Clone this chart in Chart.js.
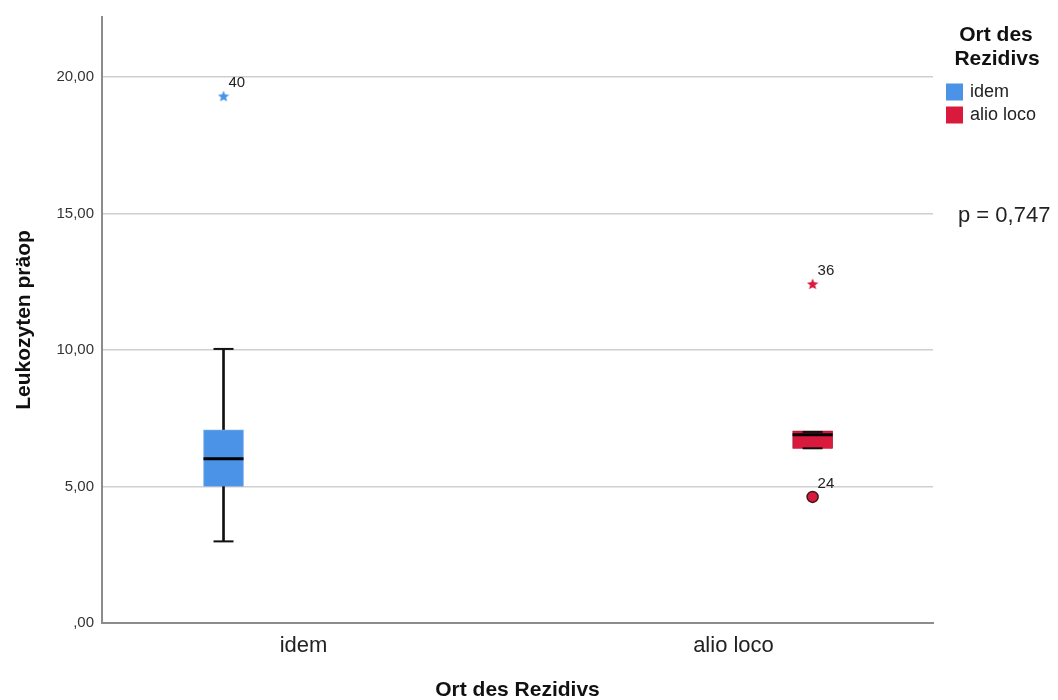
<!DOCTYPE html>
<html>
<head>
<meta charset="utf-8">
<script src="https://cdn.jsdelivr.net/npm/chart.js@4"></script>
<style>
  body { margin: 0; background: #fff; }
  canvas { display: block; }
</style>
</head>
<body>
<canvas id="chart" width="1058" height="700"></canvas>
<script>
// Leukozyten präop by Ort des Rezidivs (boxplot)
const categories = ["idem", "alio loco"];
const seriesColors = ["#4a93e6", "#d91a3c"];
const q1 = [5.0, 6.38];
const q3 = [7.08, 7.04];
const medians = [6.02, 6.9];
const whiskerLow = [2.99, 6.4];
const whiskerHigh = [10.04, 7.0];
const extremeValues = [19.3, 12.42];   // stars
const extremeIds = ["40", "36"];
const outlierValues = [null, 4.62];    // circles
const outlierIds = [null, "24"];
const yTicks = [0, 5, 10, 15, 20];

const FONT = "'Liberation Sans', Arial, Helvetica, sans-serif";
const slotOffset = [-0.186, 0.184]; // clustered position of each group inside its category

function starImg(color, size) {
  const c = document.createElement("canvas");
  c.width = c.height = size;
  const g = c.getContext("2d");
  g.fillStyle = color;
  g.beginPath();
  for (let i = 0; i < 10; i++) {
    const r = i % 2 ? size * 0.22 : size * 0.5;
    const a = -Math.PI / 2 + i * Math.PI / 5;
    g.lineTo(size / 2 + r * Math.cos(a), size / 2 + 0.5 + r * Math.sin(a));
  }
  g.closePath();
  g.fill();
  return c;
}

const xPos = categories.map((c, i) => i + slotOffset[i]);

const datasets = [];
// whiskers
datasets.push({
  type: "bar", order: 5, grouped: false, barThickness: 2,
  backgroundColor: "#111",
  data: categories.map((c, i) => ({ x: xPos[i], y: [whiskerLow[i], whiskerHigh[i]] }))
});
// boxes
categories.forEach((c, i) => {
  datasets.push({
    type: "bar", order: 4, grouped: false, barThickness: 40,
    backgroundColor: seriesColors[i],
    borderColor: i === 0 ? "#6fa8ea" : "#a8142f",
    borderWidth: 1,
    data: [{ x: xPos[i], y: [q1[i], q3[i]] }]
  });
});
// whisker caps
datasets.push({
  type: "scatter", order: 3,
  pointStyle: "line", pointRadius: 10, borderColor: "#111", borderWidth: 2,
  data: categories.flatMap((c, i) => [{ x: xPos[i], y: whiskerLow[i] }, { x: xPos[i], y: whiskerHigh[i] }])
});
// medians
datasets.push({
  type: "scatter", order: 2,
  pointStyle: "line", pointRadius: 20, borderColor: "#000", borderWidth: 3,
  data: categories.map((c, i) => ({ x: xPos[i], y: medians[i] }))
});
// extreme values (stars)
datasets.push({
  type: "scatter", order: 1,
  pointStyle: categories.map((c, i) => starImg(seriesColors[i], 12)),
  data: categories.map((c, i) => ({ x: xPos[i], y: extremeValues[i] })),
  ids: extremeIds
});
// outliers (circles)
datasets.push({
  type: "scatter", order: 1,
  pointStyle: "circle", pointRadius: 5.5,
  backgroundColor: seriesColors, borderColor: "#3a1a1a", borderWidth: 1.5,
  data: categories.map((c, i) => ({ x: xPos[i], y: outlierValues[i] })),
  ids: outlierIds
});

const extras = {
  id: "extras",
  afterDatasetsDraw(chart) {
    const ctx = chart.ctx;
    ctx.save();
    ctx.fillStyle = "#222";
    ctx.font = "15px " + FONT;
    ctx.textBaseline = "middle";
    chart.data.datasets.forEach((ds, di) => {
      if (!ds.ids) return;
      chart.getDatasetMeta(di).data.forEach((pt, j) => {
        if (!ds.ids[j] || ds.data[j].y == null) return;
        ctx.fillText(ds.ids[j], pt.x + 5, pt.y - 13);
      });
    });
    ctx.restore();
  },
  afterDraw(chart) {
    const ctx = chart.ctx;
    ctx.save();
    ctx.fillStyle = "#111";
    ctx.textAlign = "center";
    ctx.textBaseline = "middle";
    ctx.font = "bold 21px " + FONT;
    ctx.fillText("Ort des", 996, 35);
    ctx.fillText("Rezidivs", 997, 59);
    ctx.textAlign = "left";
    ctx.font = "18px " + FONT;
    categories.forEach((c, i) => {
      const y = 92 + i * 23;
      ctx.fillStyle = seriesColors[i];
      ctx.fillRect(946, y - 8.5, 17, 17);
      ctx.fillStyle = "#222";
      ctx.fillText(c, 970, y);
    });
    ctx.font = "22px " + FONT;
    ctx.fillText("p = 0,747", 958, 216);
    ctx.restore();
  }
};

new Chart(document.getElementById("chart"), {
  type: "bar",
  data: { datasets },
  plugins: [extras],
  options: {
    responsive: false,
    animation: false,
    layout: { autoPadding: false, padding: { top: 15, right: 125, left: 0, bottom: 0 } },
    plugins: { legend: { display: false }, tooltip: { enabled: false } },
    scales: {
      x: {
        type: "linear",
        offset: false,
        min: -0.4686,
        max: 1.464,
        afterFit: s => { s.height = 77; },
        afterBuildTicks: s => { s.ticks = categories.map((c, i) => ({ value: i })); },
        grid: { display: false },
        border: { display: true, color: "#8c8c8c", width: 2 },
        ticks: {
          padding: 2, color: "#222", font: { family: FONT, size: 22 },
          callback: v => categories[v]
        },
        title: {
          display: true, text: "Ort des Rezidivs", color: "#111",
          font: { family: FONT, size: 21, weight: "bold" }, padding: { top: 0, bottom: -3 }
        }
      },
      y: {
        min: 0,
        max: 22.2,
        afterFit: s => { s.width = 102; },
        afterBuildTicks: s => { s.ticks = yTicks.map(v => ({ value: v })); },
        grid: { color: "#cfcfcf", lineWidth: 1.5, drawTicks: false },
        border: { display: true, color: "#8c8c8c", width: 2 },
        ticks: {
          padding: 8, color: "#333", font: { family: FONT, size: 15 },
          callback: v => v === 0 ? ",00" : v.toFixed(2).replace(".", ",")
        },
        title: {
          display: true, text: "Leukozyten präop", color: "#111",
          font: { family: FONT, size: 21, weight: "bold" }, padding: { top: 12, bottom: 0 }
        }
      }
    }
  }
});
</script>
</body>
</html>
